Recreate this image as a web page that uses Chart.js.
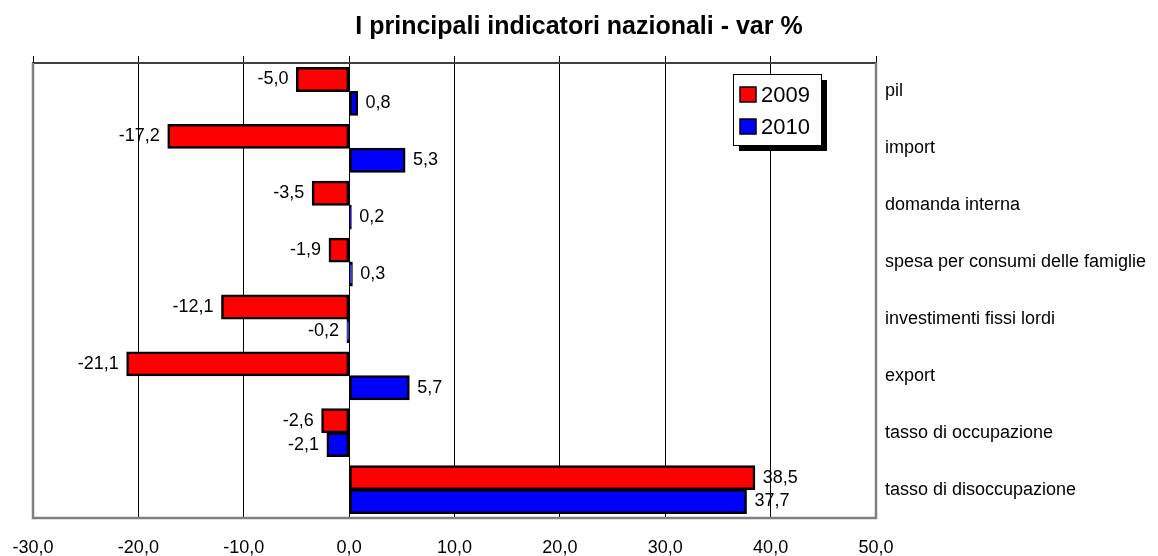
<!DOCTYPE html>
<html>
<head>
<meta charset="utf-8">
<script src="https://cdn.jsdelivr.net/npm/chart.js@4"></script>
<style>
  html, body { margin: 0; padding: 0; background: #fff; }
  #wrap { width: 1158px; height: 556px; position: relative; }
</style>
</head>
<body>
<div id="wrap"><canvas id="indicatori"></canvas></div>
<script>
(function() {
  const categories = [
    'pil', 'import', 'domanda interna', 'spesa per consumi delle famiglie',
    'investimenti fissi lordi', 'export', 'tasso di occupazione', 'tasso di disoccupazione'
  ];
  const seriesNames = ['2009', '2010'];
  const values2009 = [-5.0, -17.2, -3.5, -1.9, -12.1, -21.1, -2.6, 38.5];
  const values2010 = [0.8, 5.3, 0.2, 0.3, -0.2, 5.7, -2.1, 37.7];
  const xMin = -30, xMax = 50, xStep = 10;

  const FONT = 'Liberation Sans, Arial, sans-serif';
  const fmt = v => Number(v).toFixed(1).replace('.', ',');

  // value labels next to the bar ends
  const valueLabels = {
    id: 'valueLabels',
    afterDatasetsDraw(chart) {
      const ctx = chart.ctx;
      ctx.save();
      ctx.font = '18px ' + FONT;
      ctx.fillStyle = '#000';
      ctx.textBaseline = 'middle';
      chart.data.datasets.forEach((ds, i) => {
        chart.getDatasetMeta(i).data.forEach((bar, j) => {
          const v = ds.data[j];
          if (v >= 0) { ctx.textAlign = 'left'; ctx.fillText(fmt(v), bar.x + 8, bar.y); }
          else { ctx.textAlign = 'right'; ctx.fillText(fmt(v), bar.x - 8, bar.y); }
        });
      });
      ctx.restore();
    }
  };

  // grey plot frame (left, right, bottom)
  const plotFrame = {
    id: 'plotFrame',
    beforeDatasetsDraw(chart) {
      const a = chart.chartArea, ctx = chart.ctx;
      ctx.save();
      ctx.strokeStyle = '#808080';
      ctx.lineWidth = 2.5;
      ctx.beginPath();
      ctx.moveTo(a.left, a.top);
      ctx.lineTo(a.left, a.bottom);
      ctx.lineTo(a.right, a.bottom);
      ctx.lineTo(a.right, a.top);
      ctx.stroke();
      ctx.restore();
    }
  };

  // boxed legend with drop shadow inside the plot
  const boxLegend = {
    id: 'boxLegend',
    afterDraw(chart) {
      const a = chart.chartArea, ctx = chart.ctx;
      const x = a.right - 143, y = a.top + 11, w = 88, h = 71;
      ctx.save();
      ctx.fillStyle = '#000';
      ctx.fillRect(x + 6, y + 6, w, h);
      ctx.fillStyle = '#fff';
      ctx.fillRect(x, y, w, h);
      ctx.strokeStyle = '#000';
      ctx.lineWidth = 1;
      ctx.strokeRect(x + 0.5, y + 0.5, w, h);
      ctx.font = '22px ' + FONT;
      ctx.textBaseline = 'middle';
      ctx.textAlign = 'left';
      chart.data.datasets.forEach((ds, i) => {
        const cy = y + 21 + i * 32;
        ctx.fillStyle = ds.backgroundColor;
        ctx.fillRect(x + 7, cy - 8, 16, 15);
        ctx.lineWidth = 1.5;
        ctx.strokeStyle = '#000';
        ctx.strokeRect(x + 7, cy - 8, 16, 15);
        ctx.fillStyle = '#000';
        ctx.fillText(ds.label, x + 28, cy + 1);
      });
      ctx.restore();
    }
  };

  new Chart(document.getElementById('indicatori').getContext('2d'), {
    type: 'bar',
    data: {
      labels: categories,
      datasets: [
        { label: seriesNames[0], data: values2009, backgroundColor: '#ff0000' },
        { label: seriesNames[1], data: values2010, backgroundColor: '#0000ff' }
      ]
    },
    options: {
      indexAxis: 'y',
      responsive: true,
      maintainAspectRatio: false,
      animation: false,
      layout: { padding: 0 },
      datasets: {
        bar: {
          borderColor: '#000',
          borderWidth: 2.5,
          borderSkipped: false,
          inflateAmount: 0.5,
          categoryPercentage: 0.84,
          barPercentage: 1
        }
      },
      plugins: {
        legend: { display: false },
        tooltip: { enabled: false },
        title: {
          display: true,
          text: 'I principali indicatori nazionali - var %',
          color: '#000',
          font: { family: FONT, size: 25, weight: 'bold' },
          padding: { top: 12, bottom: 14 }
        }
      },
      scales: {
        x: {
          position: 'bottom',
          min: xMin, max: xMax,
          ticks: {
            stepSize: xStep,
            color: '#000',
            padding: 19,
            font: { family: FONT, size: 18 },
            callback: v => fmt(v)
          },
          grid: { color: '#000', lineWidth: 1, drawTicks: false },
          border: { display: false },
          afterFit(scale) { scale.height = 38; scale.paddingLeft = 33; scale.paddingRight = 0; }
        },
        xTop: {
          axis: 'x',
          position: 'top',
          min: xMin, max: xMax,
          ticks: { stepSize: xStep, display: false },
          grid: { drawOnChartArea: false, color: '#000', tickLength: 7 },
          border: { color: '#404040', width: 2 },
          afterFit(scale) { scale.height = 7; scale.paddingLeft = 33; scale.paddingRight = 0; }
        },
        y: {
          position: 'right',
          ticks: {
            color: '#000',
            padding: 1,
            font: { family: FONT, size: 18 }
          },
          grid: { display: false },
          border: { display: false },
          afterFit(scale) { scale.width = 282; }
        }
      }
    },
    plugins: [plotFrame, valueLabels, boxLegend]
  });
})();
</script>
</body>
</html>
